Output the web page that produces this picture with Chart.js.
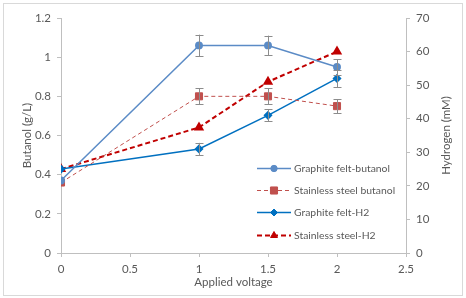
<!DOCTYPE html>
<html>
<head>
<meta charset="utf-8">
<script src="https://cdn.jsdelivr.net/npm/chart.js@4/dist/chart.umd.min.js"></script>
<style>
  html, body { margin: 0; padding: 0; background: #fff; }
  #wrap { width: 466px; height: 298px; position: relative; }
</style>
</head>
<body>
<div id="wrap"><canvas id="voltage-chart" width="466" height="298"></canvas></div>
<script>
  // Data
  const voltages = [0, 1, 1.5, 2];
  const gfButanol = [0.37, 1.06, 1.06, 0.95];       // g/L, left axis
  const gfButanolErr = [0, 0.055, 0.05, 0.04];
  const ssButanol = [0.36, 0.80, 0.80, 0.75];       // g/L, left axis
  const ssButanolErr = [0, 0.04, 0.04, 0.036];
  const gfHydrogen = [25, 31, 41, 52];              // mM, right axis
  const gfHydrogenErr = [0, 1.8, 1.8, 2.6];
  const ssHydrogen = [25, 37.4, 51, 60];            // mM, right axis
  const ssHydrogenErr = [0, 0, 0, 0];

  const xTicks = [0, 0.5, 1, 1.5, 2, 2.5];
  const butanolTicks = [0, 0.2, 0.4, 0.6, 0.8, 1, 1.2];
  const hydrogenTicks = [0, 10, 20, 30, 40, 50, 60, 70];

  const seriesNames = ['Graphite felt-butanol', 'Stainless steel butanol', 'Graphite felt-H2', 'Stainless steel-H2'];

  const FONT = 'Lato, "Noto Sans", sans-serif';
  const TEXT = '#595959';

  function pts(ys) {
    return voltages.map((x, i) => ({ x: x, y: ys[i] }));
  }

  // error bars, drawn through the scales
  const errorBarPlugin = {
    id: 'errorBars',
    afterDatasetsDraw(chart) {
      const ctx = chart.ctx;
      const xs = chart.scales.x;
      ctx.save();
      ctx.strokeStyle = '#8c8c8c';
      ctx.lineWidth = 1;
      chart.data.datasets.forEach(ds => {
        const ys = chart.scales[ds.yAxisID];
        ds.errors.forEach((e, i) => {
          if (!e) return;
          const px = Math.round(xs.getPixelForValue(voltages[i])) + 0.5;
          const top = ys.getPixelForValue(ds.data[i].y + e);
          const bot = ys.getPixelForValue(ds.data[i].y - e);
          ctx.beginPath();
          ctx.moveTo(px, top); ctx.lineTo(px, bot);
          ctx.moveTo(px - 4, Math.round(top) + 0.5); ctx.lineTo(px + 4, Math.round(top) + 0.5);
          ctx.moveTo(px - 4, Math.round(bot) + 0.5); ctx.lineTo(px + 4, Math.round(bot) + 0.5);
          ctx.stroke();
        });
      });
      ctx.restore();
    }
  };

  // in-plot legend, right axis title and outer frame
  const decorPlugin = {
    id: 'decor',
    afterDraw(chart) {
      const ctx = chart.ctx;
      ctx.save();
      // frame
      ctx.strokeStyle = '#d9d9d9';
      ctx.lineWidth = 1;
      ctx.strokeRect(3.5, 3.5, 459, 292);

      // legend
      const rows = [168, 190, 212, 235];
      chart.data.datasets.forEach((ds, i) => {
        const y = rows[i] + 0.5;
        ctx.save();
        ctx.strokeStyle = ds.borderColor;
        ctx.lineWidth = ds.borderWidth;
        ctx.setLineDash(ds.borderDash || []);
        ctx.beginPath();
        ctx.moveTo(257, y); ctx.lineTo(291, y);
        ctx.stroke();
        ctx.restore();
        ctx.fillStyle = ds.pointBackgroundColor;
        ctx.strokeStyle = ds.pointBackgroundColor;
        ctx.lineWidth = 1;
        Chart.helpers.drawPoint(ctx, {
          pointStyle: ds.pointStyle, radius: ds.pointRadius, borderWidth: 1, rotation: 0
        }, 274, y);
        ctx.fillStyle = TEXT;
        ctx.font = '10.4px ' + FONT;
        ctx.textAlign = 'left';
        ctx.textBaseline = 'middle';
        ctx.fillText(ds.label, 294, y);
      });

      // right axis title, reading bottom to top
      const area = chart.chartArea;
      ctx.translate(446, (area.top + area.bottom) / 2);
      ctx.rotate(-Math.PI / 2);
      ctx.fillStyle = TEXT;
      ctx.font = '11.5px ' + FONT;
      ctx.textAlign = 'center';
      ctx.textBaseline = 'middle';
      ctx.fillText('Hydrogen (mM)', 0, 0);
      ctx.restore();
    }
  };

  const ctx = document.getElementById('voltage-chart');
  new Chart(ctx, {
    type: 'line',
    data: {
      datasets: [
        {
          label: seriesNames[0], data: pts(gfButanol), errors: gfButanolErr, yAxisID: 'y',
          borderColor: '#5B8BC6', borderWidth: 1.5, pointStyle: 'circle', pointRadius: 3.2,
          pointBackgroundColor: '#5B8BC6', pointBorderColor: '#5B8BC6'
        },
        {
          label: seriesNames[1], data: pts(ssButanol), errors: ssButanolErr, yAxisID: 'y',
          borderColor: '#C0504D', borderWidth: 1, borderDash: [4, 3], pointStyle: 'rect', pointRadius: 5,
          pointBackgroundColor: '#C0504D', pointBorderColor: '#C0504D'
        },
        {
          label: seriesNames[2], data: pts(gfHydrogen), errors: gfHydrogenErr, yAxisID: 'y1',
          borderColor: '#0070C0', borderWidth: 1.5, pointStyle: 'rectRot', pointRadius: 3.5,
          pointBackgroundColor: '#0070C0', pointBorderColor: '#0070C0'
        },
        {
          label: seriesNames[3], data: pts(ssHydrogen), errors: ssHydrogenErr, yAxisID: 'y1',
          borderColor: '#C00000', borderWidth: 2, borderDash: [5, 3], pointStyle: 'triangle', pointRadius: 4,
          pointBackgroundColor: '#C00000', pointBorderColor: '#C00000'
        }
      ]
    },
    options: {
      responsive: false,
      animation: false,
      layout: { padding: { top: 18, left: 0, right: 0, bottom: 0 } },
      plugins: { legend: { display: false }, tooltip: { enabled: false } },
      elements: { line: { tension: 0 }, point: { borderWidth: 1 } },
      scales: {
        x: {
          type: 'linear', min: 0, max: 2.5,
          afterBuildTicks: s => { s.ticks = xTicks.map(v => ({ value: v })); },
          afterFit: s => { s.height = 45; },
          border: { color: '#bfbfbf' },
          grid: { drawOnChartArea: false, tickLength: 4, color: '#bfbfbf' },
          ticks: { color: TEXT, font: { family: FONT, size: 11.5 }, padding: 5, maxRotation: 0, callback: v => String(v) },
          title: { display: true, text: 'Applied voltage', color: TEXT, font: { family: FONT, size: 11.5 }, padding: { top: 0, bottom: 9 } }
        },
        y: {
          type: 'linear', position: 'left', min: 0, max: 1.2,
          afterBuildTicks: s => { s.ticks = butanolTicks.map(v => ({ value: v })); },
          afterFit: s => { s.width = 61; },
          border: { color: '#bfbfbf' },
          grid: { drawOnChartArea: false, tickLength: 4, color: '#bfbfbf' },
          ticks: { color: TEXT, font: { family: FONT, size: 11.5 }, padding: 6, callback: v => String(v) },
          title: { display: true, text: 'Butanol (g/L)', color: TEXT, font: { family: FONT, size: 11.5 }, padding: { top: 20, bottom: 0 } }
        },
        y1: {
          type: 'linear', position: 'right', min: 0, max: 70,
          afterBuildTicks: s => { s.ticks = hydrogenTicks.map(v => ({ value: v })); },
          afterFit: s => { s.width = 60; },
          border: { color: '#bfbfbf' },
          grid: { drawOnChartArea: false, tickLength: 4, color: '#bfbfbf' },
          ticks: { color: TEXT, font: { family: FONT, size: 11.5 }, padding: 6, callback: v => String(v) }
        }
      }
    },
    plugins: [errorBarPlugin, decorPlugin]
  });
</script>
</body>
</html>
